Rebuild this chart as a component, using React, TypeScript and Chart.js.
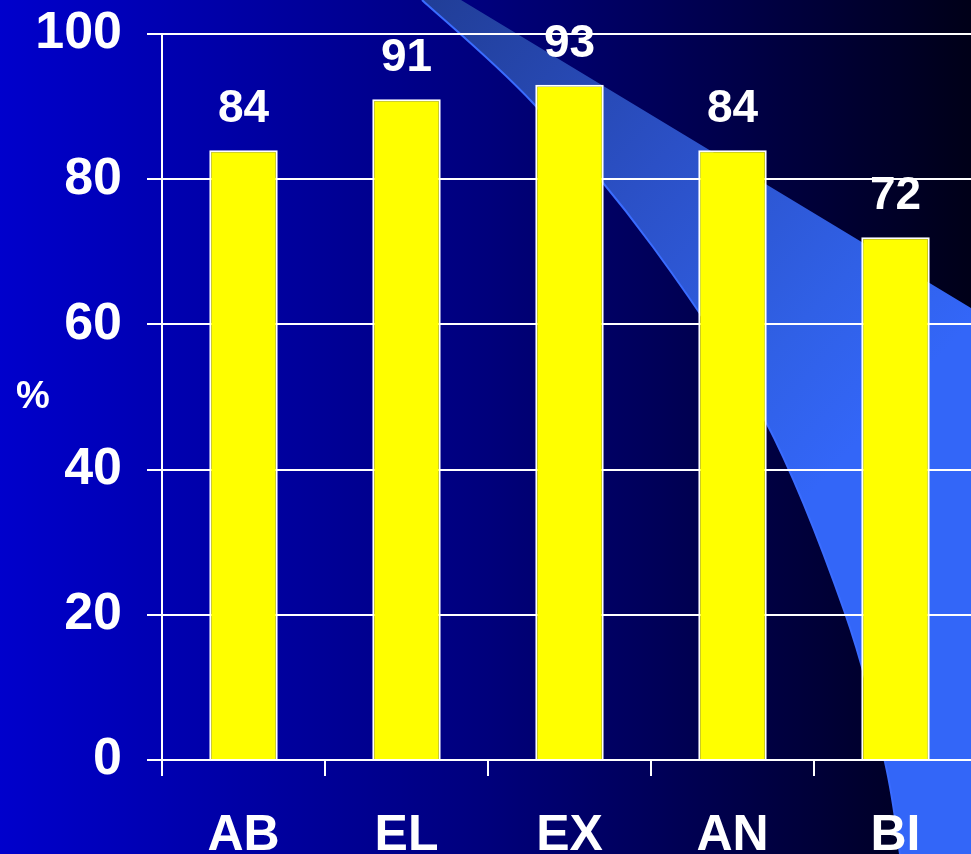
import { useEffect, useRef } from "react";
import { Chart, registerables } from "chart.js";

Chart.register(...registerables);

// Survey results per group, in percent
const categories = ["AB", "EL", "EX", "AN", "BI"];
const percentages = [84, 91, 93, 84, 72];
const yTickValues = [0, 20, 40, 60, 80, 100];
const yAxisTitle = "%";

const FONT = "'Liberation Sans', Arial, Helvetica, sans-serif";
const CANVAS_W = 990;
const CANVAS_H = 854;
const VIEW_W = 971;

// Lower edge of the decorative light-blue swoosh behind the plot
const SWOOSH_LOWER: [number, number][] = [
  [422, 0], [533, 103], [653, 247], [765, 420], [845, 613], [885, 762], [900, 854],
];
// Upper edge of the swoosh: a straight line
const SWOOSH_UPPER_START: [number, number] = [461, 0];
const SWOOSH_UPPER_SLOPE = 0.604;

function traceSmooth(ctx: CanvasRenderingContext2D, pts: [number, number][]) {
  ctx.moveTo(pts[0][0], pts[0][1]);
  for (let i = 0; i < pts.length - 1; i++) {
    const p0 = pts[Math.max(i - 1, 0)];
    const p1 = pts[i];
    const p2 = pts[i + 1];
    const p3 = pts[Math.min(i + 2, pts.length - 1)];
    const c1x = p1[0] + (p2[0] - p0[0]) / 6;
    const c1y = p1[1] + (p2[1] - p0[1]) / 6;
    const c2x = p2[0] - (p3[0] - p1[0]) / 6;
    const c2y = p2[1] - (p3[1] - p1[1]) / 6;
    ctx.bezierCurveTo(c1x, c1y, c2x, c2y, p2[0], p2[1]);
  }
}

const backdropPlugin = {
  id: "backdrop",
  beforeDraw(chart: Chart) {
    const ctx = chart.ctx;
    ctx.save();
    const bg = ctx.createLinearGradient(0, 0, VIEW_W, 0);
    bg.addColorStop(0, "#0000CC");
    bg.addColorStop(0.5, "#00007C");
    bg.addColorStop(1, "#000018");
    ctx.fillStyle = bg;
    ctx.fillRect(0, 0, CANVAS_W, CANVAS_H);

    // swoosh band
    const band = ctx.createLinearGradient(430, 0, 880, 420);
    band.addColorStop(0, "#213E98");
    band.addColorStop(0.45, "#2B50C6");
    band.addColorStop(0.8, "#3060E6");
    band.addColorStop(1, "#3366F8");
    ctx.beginPath();
    traceSmooth(ctx, SWOOSH_LOWER);
    ctx.lineTo(CANVAS_W, CANVAS_H);
    const [ux, uy] = SWOOSH_UPPER_START;
    ctx.lineTo(CANVAS_W, uy + (CANVAS_W - ux) * SWOOSH_UPPER_SLOPE);
    ctx.lineTo(ux, uy);
    ctx.closePath();
    ctx.fillStyle = band;
    ctx.fill();

    ctx.beginPath();
    traceSmooth(ctx, SWOOSH_LOWER);
    ctx.strokeStyle = "#3A6CFF";
    ctx.lineWidth = 2;
    ctx.stroke();
    ctx.restore();
  },
};

const valueLabelPlugin = {
  id: "valueLabels",
  afterDatasetsDraw(chart: Chart) {
    const ctx = chart.ctx;
    ctx.save();
    ctx.fillStyle = "#FFFFFF";
    ctx.font = `bold 46px ${FONT}`;
    ctx.textAlign = "center";
    ctx.textBaseline = "alphabetic";
    const meta = chart.getDatasetMeta(0);
    meta.data.forEach((bar: any, i: number) => {
      ctx.fillText(String(percentages[i]), bar.x, bar.y - 28);
    });

    // unrotated y-axis title
    ctx.font = `bold 38px ${FONT}`;
    ctx.textBaseline = "middle";
    ctx.fillText(yAxisTitle, 33, 398);
    ctx.restore();
  },
};

export default function App() {
  const canvasRef = useRef<HTMLCanvasElement | null>(null);

  useEffect(() => {
    const canvas = canvasRef.current;
    if (!canvas) return;
    const chart = new Chart(canvas, {
      type: "bar",
      data: {
        labels: categories,
        datasets: [
          {
            data: percentages,
            backgroundColor: "#FFFF00",
            borderColor: "#FFFFFF",
            borderWidth: 2,
            categoryPercentage: 1,
            barPercentage: 0.42,
          },
        ],
      },
      options: {
        responsive: false,
        animation: false,
        devicePixelRatio: 1,
        layout: { padding: { top: 34, left: 0, right: 13, bottom: 0 } },
        plugins: {
          legend: { display: false },
          tooltip: { enabled: false },
        },
        scales: {
          x: {
            type: "category",
            offset: true,
            grid: {
              display: true,
              drawOnChartArea: false,
              drawTicks: true,
              tickLength: 16,
              color: "#FFFFFF",
              lineWidth: 2,
              offset: true,
            },
            border: { display: true, color: "#FFFFFF", width: 2 },
            ticks: {
              color: "#FFFFFF",
              font: { family: FONT, weight: "bold", size: 50 },
              padding: 30,
              maxRotation: 0,
              autoSkip: false,
            },
            afterFit: (scale: any) => {
              scale.height = 94;
              scale.paddingLeft = 0;
              scale.paddingRight = 0;
            },
          },
          y: {
            min: 0,
            max: 100,
            afterBuildTicks: (scale: any) => {
              scale.ticks = yTickValues.map((v) => ({ value: v }));
            },
            grid: {
              color: "#FFFFFF",
              lineWidth: 2,
              drawTicks: true,
              tickLength: 15,
            },
            border: { display: true, color: "#FFFFFF", width: 2 },
            ticks: {
              color: "#FFFFFF",
              font: { family: FONT, weight: "bold", size: 52 },
              padding: 25,
            },
            afterFit: (scale: any) => {
              scale.width = 162;
              scale.paddingTop = 0;
              scale.paddingBottom = 0;
            },
          },
        },
      },
      plugins: [backdropPlugin, valueLabelPlugin],
    });
    return () => chart.destroy();
  }, []);

  return (
    <div
      style={{
        position: "fixed",
        left: 0,
        top: 0,
        width: VIEW_W,
        height: CANVAS_H,
        overflow: "hidden",
        background: "#000066",
      }}
    >
      <canvas
        ref={canvasRef}
        width={CANVAS_W}
        height={CANVAS_H}
        style={{ display: "block", width: CANVAS_W, height: CANVAS_H }}
      />
    </div>
  );
}
